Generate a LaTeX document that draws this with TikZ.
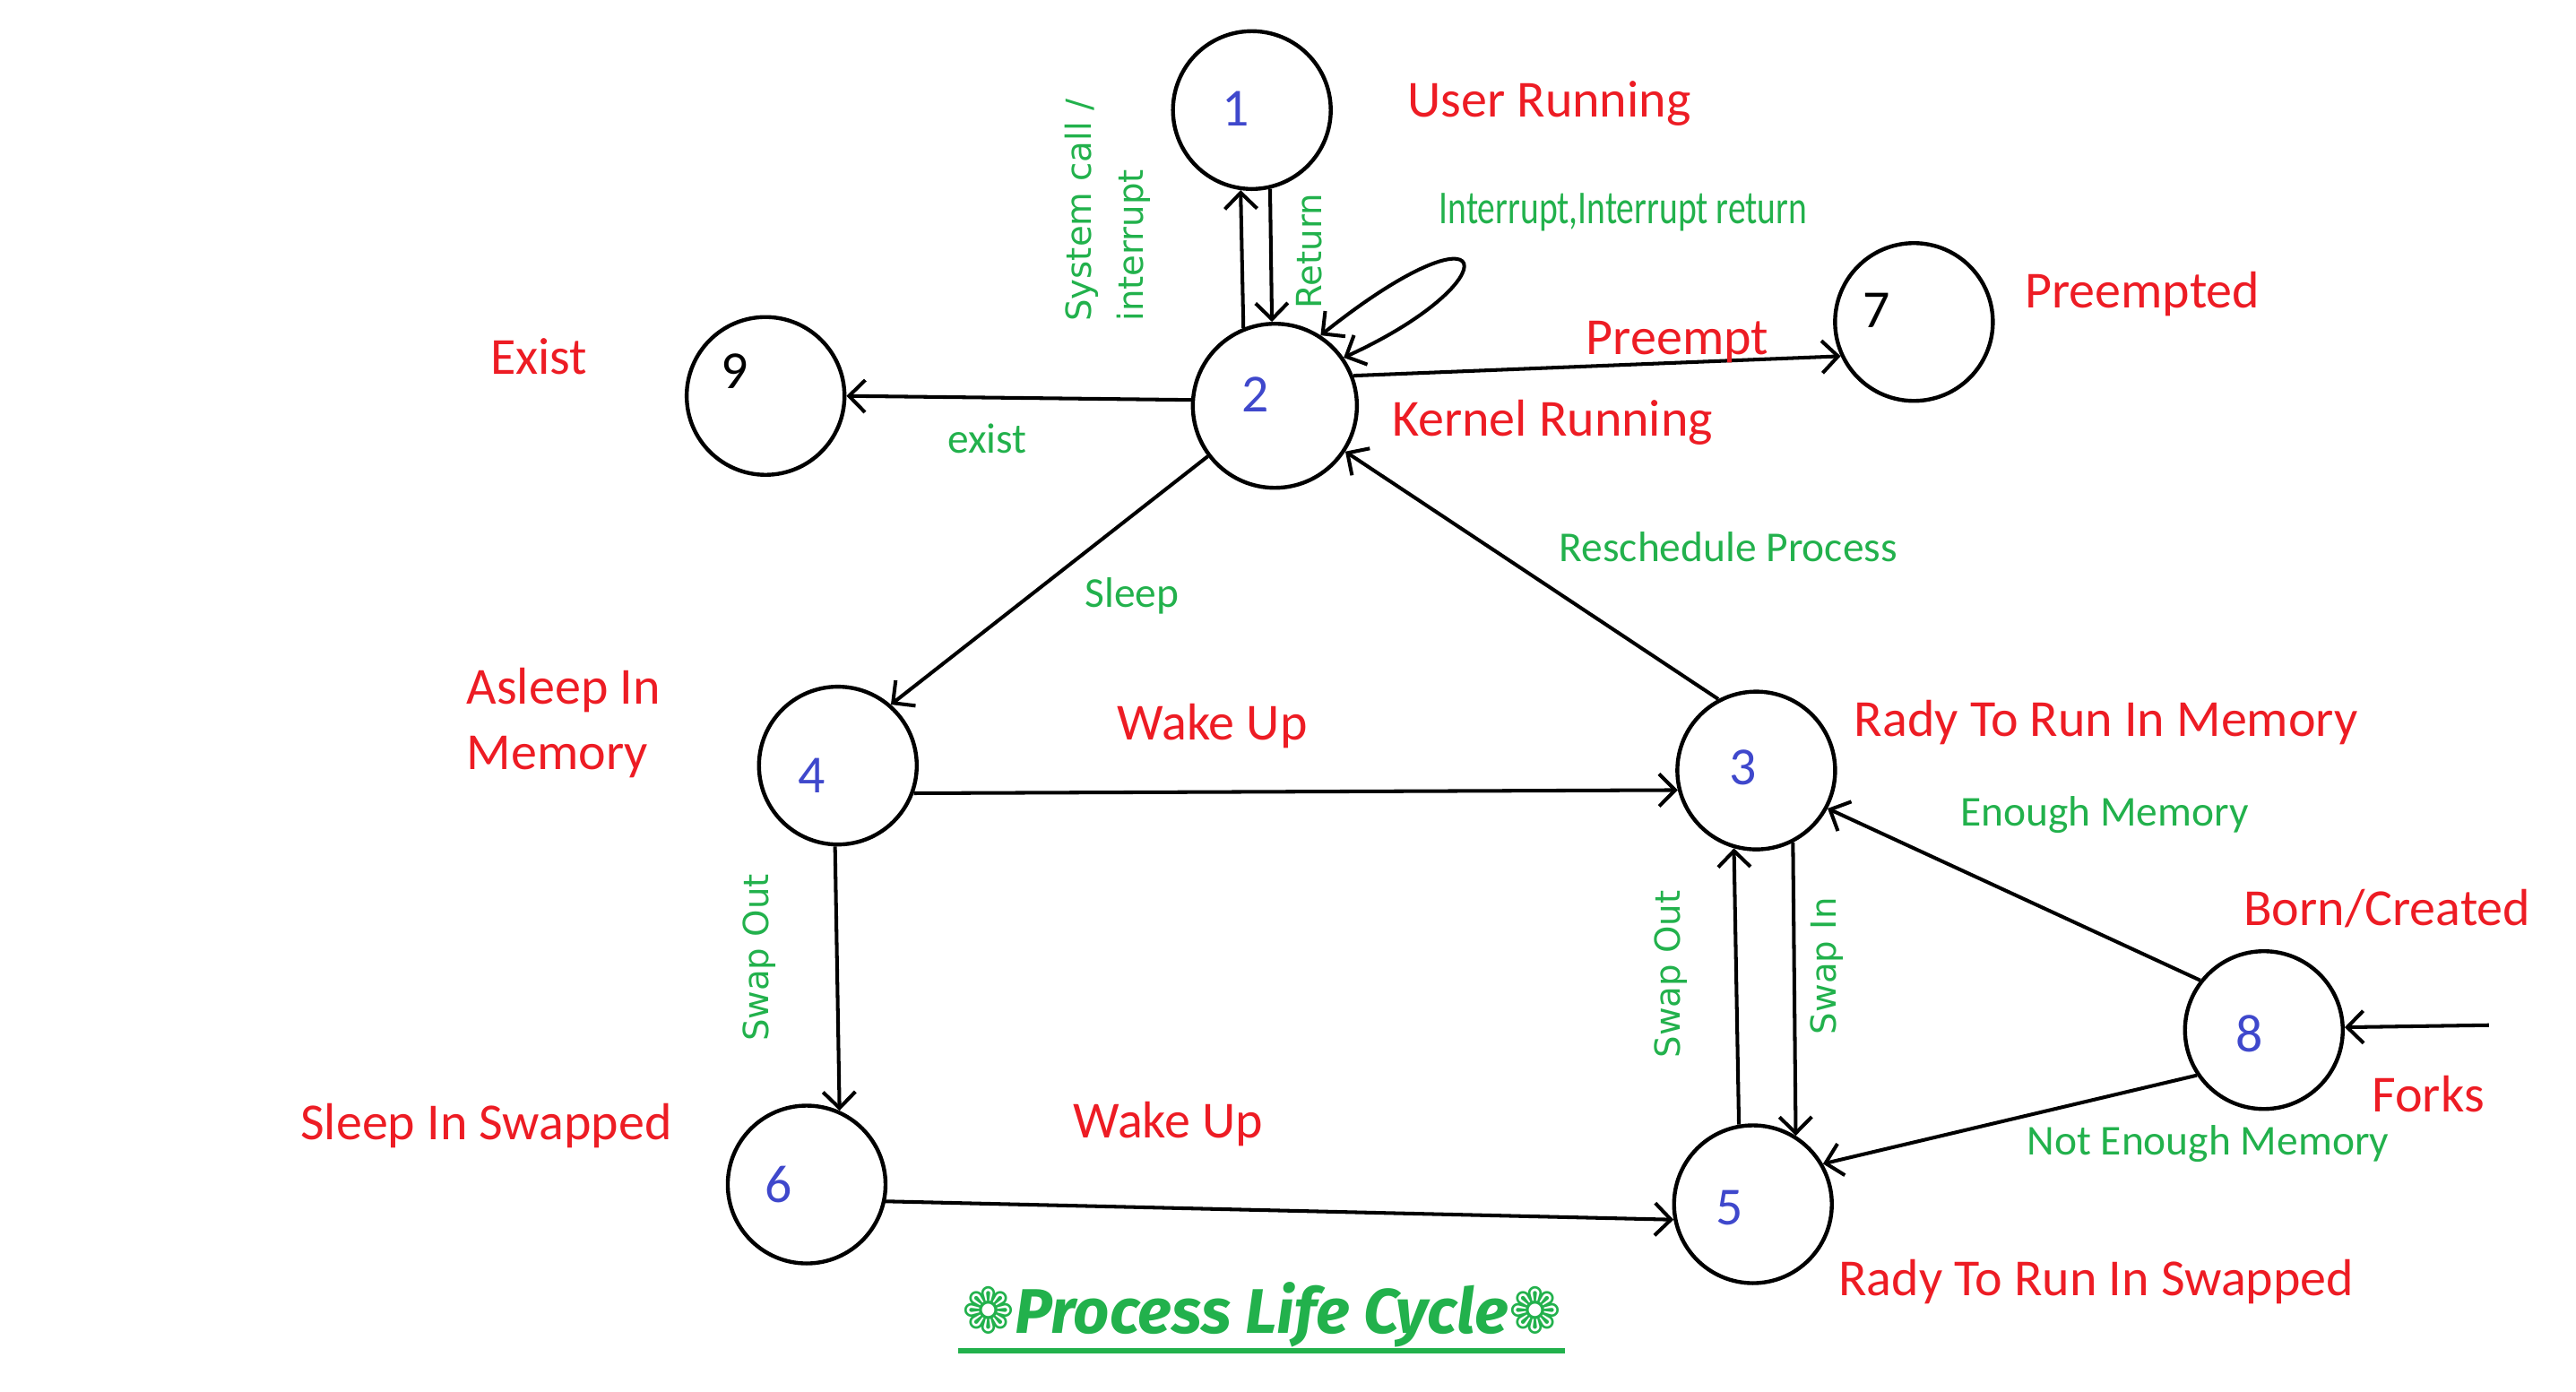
\documentclass[tikz,border=0pt]{standalone}
\usepackage{fontspec}
\setmainfont{Carlito}
\newfontfamily\vfont{DejaVu Sans}
\newfontfamily\titlefont{Fira Sans}
\newfontfamily\symfont{DejaVu Sans}
\usetikzlibrary{arrows.meta}

\definecolor{lblred}{RGB}{237,28,36}
\definecolor{lblgreen}{RGB}{34,177,76}
\definecolor{numblue}{RGB}{63,72,204}

\begin{document}
\begin{tikzpicture}[x=0.01833cm, y=-0.01833cm,
  >={Straight Barb[length=1.8mm,width=3.6mm]},
  procstate/.style={draw, circle, line width=1.25pt, minimum size=1.76cm, inner sep=0pt},
  num/.style={text=numblue, font=\fontsize{17}{20}\selectfont},
  redlbl/.style={text=lblred, font=\fontsize{16.5}{21}\selectfont},
  grnlbl/.style={text=lblgreen, font=\fontsize{13.5}{16}\selectfont},
  vlbl/.style={text=lblgreen, font=\vfont\fontsize{11}{16.5}\selectfont, rotate=90, align=left},
  trans/.style={line width=1.15pt}]

  \useasboundingbox (0,0) rectangle (1568,847);

  % states
  \node[procstate, label={[num,shift={(-10,-1)}]center:1}] (n1) at (762,67) {};
  \node[procstate, minimum size=1.83cm, label={[num,shift={(-12,-7)}]center:2}] (n2) at (776,247) {};
  \node[procstate, label={[num,shift={(-8,-2)}]center:3}] (n3) at (1069,469) {};
  \node[procstate, label={[num,shift={(-16,6)}]center:4}] (n4) at (510,466) {};
  \node[procstate, label={[num,shift={(-14,2)}]center:5}] (n5) at (1067,733) {};
  \node[procstate, label={[num,shift={(-17,0)}]center:6}] (n6) at (491,721) {};
  \node[procstate, label={[num,text=black,shift={(-23,-7)}]center:7}] (n7) at (1165,196) {};
  \node[procstate, label={[num,shift={(-9,2)}]center:8}] (n8) at (1378,627) {};
  \node[procstate, label={[num,text=black,shift={(-19,-15)}]center:9}] (n9) at (466,241) {};

  \coordinate (forks) at (1515,624);

  % state names
  \node[redlbl] (usrrun) at (943,63) {User Running};
  \node[redlbl] (krnrun) at (945,257) {Kernel Running};
  \node[redlbl] (preempted) at (1304,179) {Preempted};
  \node[redlbl] (exitst) at (328,217) {Exist};
  \node[redlbl, align=left] (asleep) at (343,440) {Asleep In\\Memory};
  \node[redlbl] (rdymem) at (1282,440) {Rady To Run In Memory};
  \node[redlbl] (born) at (1453,553) {Born/Created};
  \node[redlbl] (sleepsw) at (296,685) {Sleep In Swapped};
  \node[redlbl] (rdysw) at (1276,780) {Rady To Run In Swapped};

  % transitions
  \draw[trans, ->] (n2.112) -- (n1.262);
  \draw[trans, ->] (n1.283) -- (n2.92);
  \draw[trans, <->] (n2.57) .. controls (912,118) and (922,170) .. (n2.35);
  \draw[trans, ->] (n2.21) -- (n7.205);
  \draw[trans, ->] (n2.176) -- (n9.0);
  \draw[trans, ->] (n2.217) -- (n4.49);
  \draw[trans, ->] (n3.118) -- (n2.327);
  \draw[trans, ->] (n4.340) -- (n3.194);
  \draw[trans, ->] (n4.268) -- (n6.66);
  \draw[trans, ->] (n5.100) -- (n3.254);
  \draw[trans, ->] (n3.297) -- (n5.58);
  \draw[trans, ->] (n8.142) -- (n3.332);
  \draw[trans, ->] (n8.214) -- (n5.30);
  \draw[trans, ->] (forks) -- (n8.2);
  \draw[trans, ->] (n6.348) -- (n5.191);

  % transition labels
  \node[vlbl] (syscall) at (674,128) {System call /\\interrupt};
  \node[vlbl] (ret) at (797,153) {Return};
  \node[text=lblgreen, font=\fontsize{15}{18}\selectfont] (intr) at (988,129) {\scalebox{0.75}[1]{Interrupt,Interrupt return}};
  \node[redlbl] (preempt) at (1021,208) {Preempt};
  \node[grnlbl] (exitlbl) at (601,267) {exist};
  \node[grnlbl] (resched) at (1052,333) {Reschedule Process};
  \node[grnlbl] (sleep) at (689,363) {Sleep};
  \node[redlbl] (wake1) at (738,442) {Wake Up};
  \node[grnlbl] (enough) at (1281,496) {Enough Memory};
  \node[vlbl] (swout1) at (462,583) {Swap Out};
  \node[vlbl] (swout2) at (1017,593) {Swap Out};
  \node[vlbl] (swin) at (1112,588) {Swap In};
  \node[redlbl] (forkslbl) at (1478,666) {Forks};
  \node[redlbl] (wake2) at (711,684) {Wake Up};
  \node[grnlbl] (notenough) at (1344,696) {Not Enough Memory};

  % title
  \node[text=lblgreen, font=\titlefont\bfseries\itshape\fontsize{20}{24}\selectfont, inner sep=1pt] (title) at (768,800)
    {{\symfont ❁}Process Life Cycle{\symfont ❁}};
  \draw[lblgreen, line width=1.6pt] (title.south west) -- (title.south east);

\end{tikzpicture}
\end{document}
